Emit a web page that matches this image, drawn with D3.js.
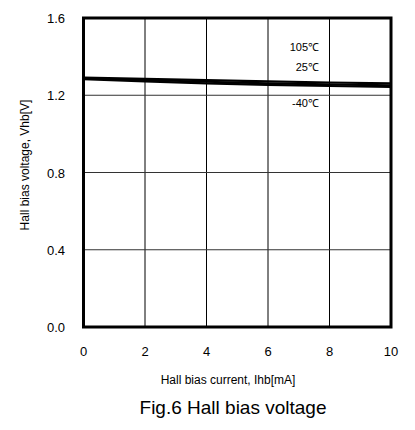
<!DOCTYPE html>
<html>
<head>
<meta charset="utf-8">
<script src="https://cdn.jsdelivr.net/npm/d3@7"></script>
<style>
  body { margin: 0; background: #fff; }
  text { font-family: "Liberation Sans", Arial, sans-serif; fill: #000; }
</style>
</head>
<body>
<div class="chart"></div>
<script>
var width = 415, height = 430;

// data
var currents = [0, 2, 4, 6, 8, 10];
var v105 = [1.292, 1.285, 1.278, 1.272, 1.266, 1.261];
var v25 = [1.288, 1.279, 1.270, 1.262, 1.256, 1.251];
var vm40 = [1.284, 1.272, 1.262, 1.254, 1.248, 1.243];
var seriesNames = ['105\u2103', '25\u2103', '-40\u2103'];
var xTicks = [0, 2, 4, 6, 8, 10];
var yTicks = [0.0, 0.4, 0.8, 1.2, 1.6];

// plot box (avoid the global name "top")
var plotL = 83.5, plotR = 391, plotT = 18, plotB = 327;

var svg = d3.select('.chart')
    .append('svg')
    .attr('width', width)
    .attr('height', height);

var x = d3.scaleLinear().domain([0, 10]).range([plotL, plotR]);
var y = d3.scaleLinear().domain([0, 1.6]).range([plotB, plotT]);

// grid
var grid = svg.append('g');
grid.selectAll('.vx')
    .data(xTicks.slice(1, -1))
    .enter()
    .append('line')
    .attr('x1', d => x(d)).attr('x2', d => x(d))
    .attr('y1', plotT).attr('y2', plotB)
    .attr('stroke', '#000').attr('stroke-width', 1);
grid.selectAll('.hy')
    .data(yTicks.slice(1, -1))
    .enter()
    .append('line')
    .attr('x1', plotL).attr('x2', plotR)
    .attr('y1', d => y(d)).attr('y2', d => y(d))
    .attr('stroke', '#333').attr('stroke-width', 1);

// curves
var line = d3.line()
    .x((d, i) => x(currents[i]))
    .y(d => y(d));

svg.selectAll('.curve')
    .data([v105, v25, vm40])
    .enter()
    .append('path')
    .attr('d', d => line(d))
    .attr('fill', 'none')
    .attr('stroke', '#000')
    .attr('stroke-width', 2.2);

// frame
svg.append('rect')
    .attr('x', plotL).attr('y', plotT)
    .attr('width', plotR - plotL).attr('height', plotB - plotT)
    .attr('fill', 'none')
    .attr('stroke', '#000')
    .attr('stroke-width', 3);

// tick labels
svg.selectAll('.xt')
    .data(xTicks)
    .enter()
    .append('text')
    .attr('x', d => x(d))
    .attr('y', 356)
    .attr('text-anchor', 'middle')
    .style('font-size', '13px')
    .text(d => d);

svg.selectAll('.yt')
    .data(yTicks)
    .enter()
    .append('text')
    .attr('x', 65)
    .attr('y', d => y(d) + 5)
    .attr('text-anchor', 'end')
    .style('font-size', '13px')
    .text(d => d.toFixed(1));

// series labels
var labelY = [47, 67, 103];
svg.selectAll('.sl')
    .data(seriesNames)
    .enter()
    .append('text')
    .attr('x', 319)
    .attr('y', (d, i) => labelY[i] + 4)
    .attr('text-anchor', 'end')
    .style('font-size', '11px')
    .text(d => d);

// axis titles
svg.append('text')
    .attr('x', 228)
    .attr('y', 384)
    .attr('text-anchor', 'middle')
    .style('font-size', '12px')
    .text('Hall bias current, Ihb[mA]');

svg.append('text')
    .attr('transform', 'translate(29,165) rotate(-90)')
    .attr('text-anchor', 'middle')
    .style('font-size', '12px')
    .text('Hall bias voltage, Vhb[V]');

svg.append('text')
    .attr('x', 233)
    .attr('y', 414)
    .attr('text-anchor', 'middle')
    .style('font-size', '19px')
    .text('Fig.6 Hall bias voltage');
</script>
</body>
</html>
